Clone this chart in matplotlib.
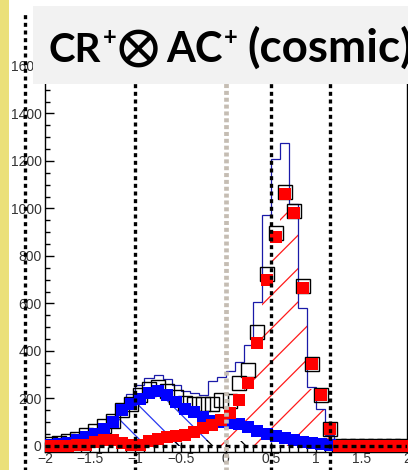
import numpy as np
import matplotlib
matplotlib.use("Agg")
from matplotlib import pyplot as plt
from matplotlib.patches import Rectangle

# binning: 40 bins of 0.1 from -2 to 2
edges = np.linspace(-2.0, 2.0, 41)
centers = 0.5 * (edges[:-1] + edges[1:])

# data points (black open squares)
data_black = [10, 12, 20, 31, 45, 62, 84, 105, 150, 176,
              216, 240, 250, 232, 205, 180, 175, 175, 176, 195,
              190, 265, 320, 481, 723, 898, 1071, 991, 675, 345,
              214, 72, 0, 0, 0, 0, 0, 0, 0, 0]
# red filled squares
data_red = [2, 0, 2, 3, 6, 18, 26, 24, 14, 3,
            4, 22, 30, 36, 41, 48, 60, 74, 88, 108,
            140, 194, 267, 435, 699, 881, 1061, 980, 667, 345,
            215, 72, 0, 0, 0, 0, 0, 0, 0, 0]
# blue filled squares
data_blue = [6, 8, 13, 25, 38, 52, 72, 100, 150, 177,
             198, 223, 231, 213, 185, 156, 143, 122, 105, 100,
             98, 92, 78, 65, 52, 42, 33, 24, 18, 12,
             7, 3, 0, 0, 0, 0, 0, 0, 0, 0]
# total MC (blue outline)
mc_total = [12, 14, 22, 32, 46, 62, 85, 108, 160, 220,
            255, 285, 300, 280, 258, 232, 222, 216, 272, 290,
            316, 352, 425, 608, 971, 1209, 1275, 1020, 583, 248,
            156, 45, 0, 0, 0, 0, 0, 0, 0, 0]
# hatched components
mc_signal = [0, 0, 0, 0, 0, 0, 0, 0, 0, 0,
             0, 0, 0, 0, 0, 0, 0, 10, 25, 45,
             95, 170, 255, 430, 700, 880, 1060, 1000, 583, 240,
             150, 42, 0, 0, 0, 0, 0, 0, 0, 0]
mc_bump = [0, 0, 0, 0, 0, 0, 0, 0, 135, 168,
           195, 215, 222, 205, 178, 150, 135, 115, 0, 0,
           0, 0, 0, 0, 0, 0, 0, 0, 0, 0,
           0, 0, 0, 0, 0, 0, 0, 0, 0, 0]
mc_other = [0, 0, 0, 0, 0, 0, 0, 0, 0, 0,
            0, 0, 0, 0, 18, 20, 22, 25, 25, 25,
            25, 22, 20, 15, 10, 0, 0, 0, 0, 0,
            0, 0, 0, 0, 0, 0, 0, 0, 0, 0]

cut_lines = [-2.223, -1.0, 0.5, 1.15]
zero_line = 0.0

W, H = 408, 470
plt.rcParams['font.family'] = ['Liberation Sans', 'DejaVu Sans']
plt.rcParams['hatch.linewidth'] = 0.9

fig = plt.figure(figsize=(W / 100, H / 100), dpi=100)
fig.patch.set_facecolor('white')
ax = fig.add_axes([45 / W, (H - 451.7) / H, (406.7 - 45) / W, (451.7 - 55) / H])

ax.stairs(mc_bump, edges, fill=True, hatch='\\', facecolor='none',
          edgecolor='#2838f0', linewidth=0, zorder=1)
ax.stairs(mc_other, edges, fill=True, hatch='\\', facecolor='none',
          edgecolor='black', linewidth=0, zorder=1)
ax.stairs(mc_signal, edges, fill=True, hatch='/', facecolor='none',
          edgecolor='#ff1a1a', linewidth=0, zorder=1)
ax.stairs(mc_total, edges, color='#1a1aa8', linewidth=0.9, zorder=2)

ax.plot(centers, data_black, 's', mfc='none', mec='black', ms=10, mew=1.0, zorder=3)
ax.plot(centers, data_blue, 's', color='#0000ff', ms=8.5, mew=0, zorder=4)
ax.plot(centers, data_red, 's', color='#ff0000', ms=8.5, mew=0, zorder=5)

# dotted reference lines
ax.axhline(zero_line, color='black', lw=2.4, ls=(0, (1.5, 1.2)), zorder=6)
for xc in cut_lines:
    ax.axvline(xc, ymin=-0.06, ymax=1.106, color='black', lw=2.4,
               ls=(0, (1.2, 1.1)), clip_on=False, zorder=7)
ax.axvline(zero_line, ymin=-0.06, ymax=1.106, color='#c5bdb3', lw=3.4,
           ls=(0, (0.85, 0.6)), clip_on=False, zorder=7)

ax.set_xlim(-2, 2)
ax.set_ylim(-24, 1646)
ax.set_xticks([-2, -1.5, -1, -0.5, 0, 0.5, 1, 1.5, 2])
ax.set_xticklabels(['\u22122', '\u22121.5', '\u22121', '\u22120.5', '0', '0.5', '1', '1.5', '2'])
ax.set_xticks(np.arange(-2, 2.01, 0.1), minor=True)
ax.set_yticks(np.arange(0, 1601, 200))
ax.set_yticks(np.arange(0, 1601, 50), minor=True)
ax.tick_params(which='both', direction='in', colors='black', labelcolor='#333333',
               labelsize=10, width=1.0)
ax.tick_params(axis='y', which='major', length=6.5, pad=2.5)
ax.tick_params(axis='y', which='minor', length=3.5)
ax.tick_params(axis='x', which='major', length=7, pad=0.5)
ax.tick_params(axis='x', which='minor', length=3.5)
for s in ax.spines.values():
    s.set_linewidth(1.0)

# slide decorations
fig.patches.append(Rectangle((0, 0), 9 / W, 1, transform=fig.transFigure,
                             facecolor='#ebe07a', edgecolor='none', zorder=0.5))
fig.patches.append(Rectangle((33 / W, (H - 84) / H), (W - 33) / W, 78 / H,
                             transform=fig.transFigure, facecolor='#f2f2f2',
                             edgecolor='none', zorder=10))

# title, laid out piece by piece
renderer = fig.canvas.get_renderer()
title_font = ['Lato', 'DejaVu Sans']


def put(x, y, s, size, family=title_font, va='baseline', ha='left',
        weight='bold'):
    t = fig.text(x / W, (H - y) / H, s, family=family, weight=weight,
                 fontsize=size, va=va, ha=ha, zorder=11)
    return t.get_window_extent(renderer).x1


x_end = put(49, 62, 'CR', 29)
x_end = put(x_end + 1, 45, '+', 17)
put(138, 48, '\u2297', 36, family=['STIXGeneral', 'DejaVu Sans'],
    va='center', ha='center')
x_end = put(166, 62, 'AC', 30)
x_end = put(x_end + 1, 45, '+', 17)
put(max(242, x_end + 10), 62, '(cosmic)', 33)

fig.savefig('out.png', dpi=100)
